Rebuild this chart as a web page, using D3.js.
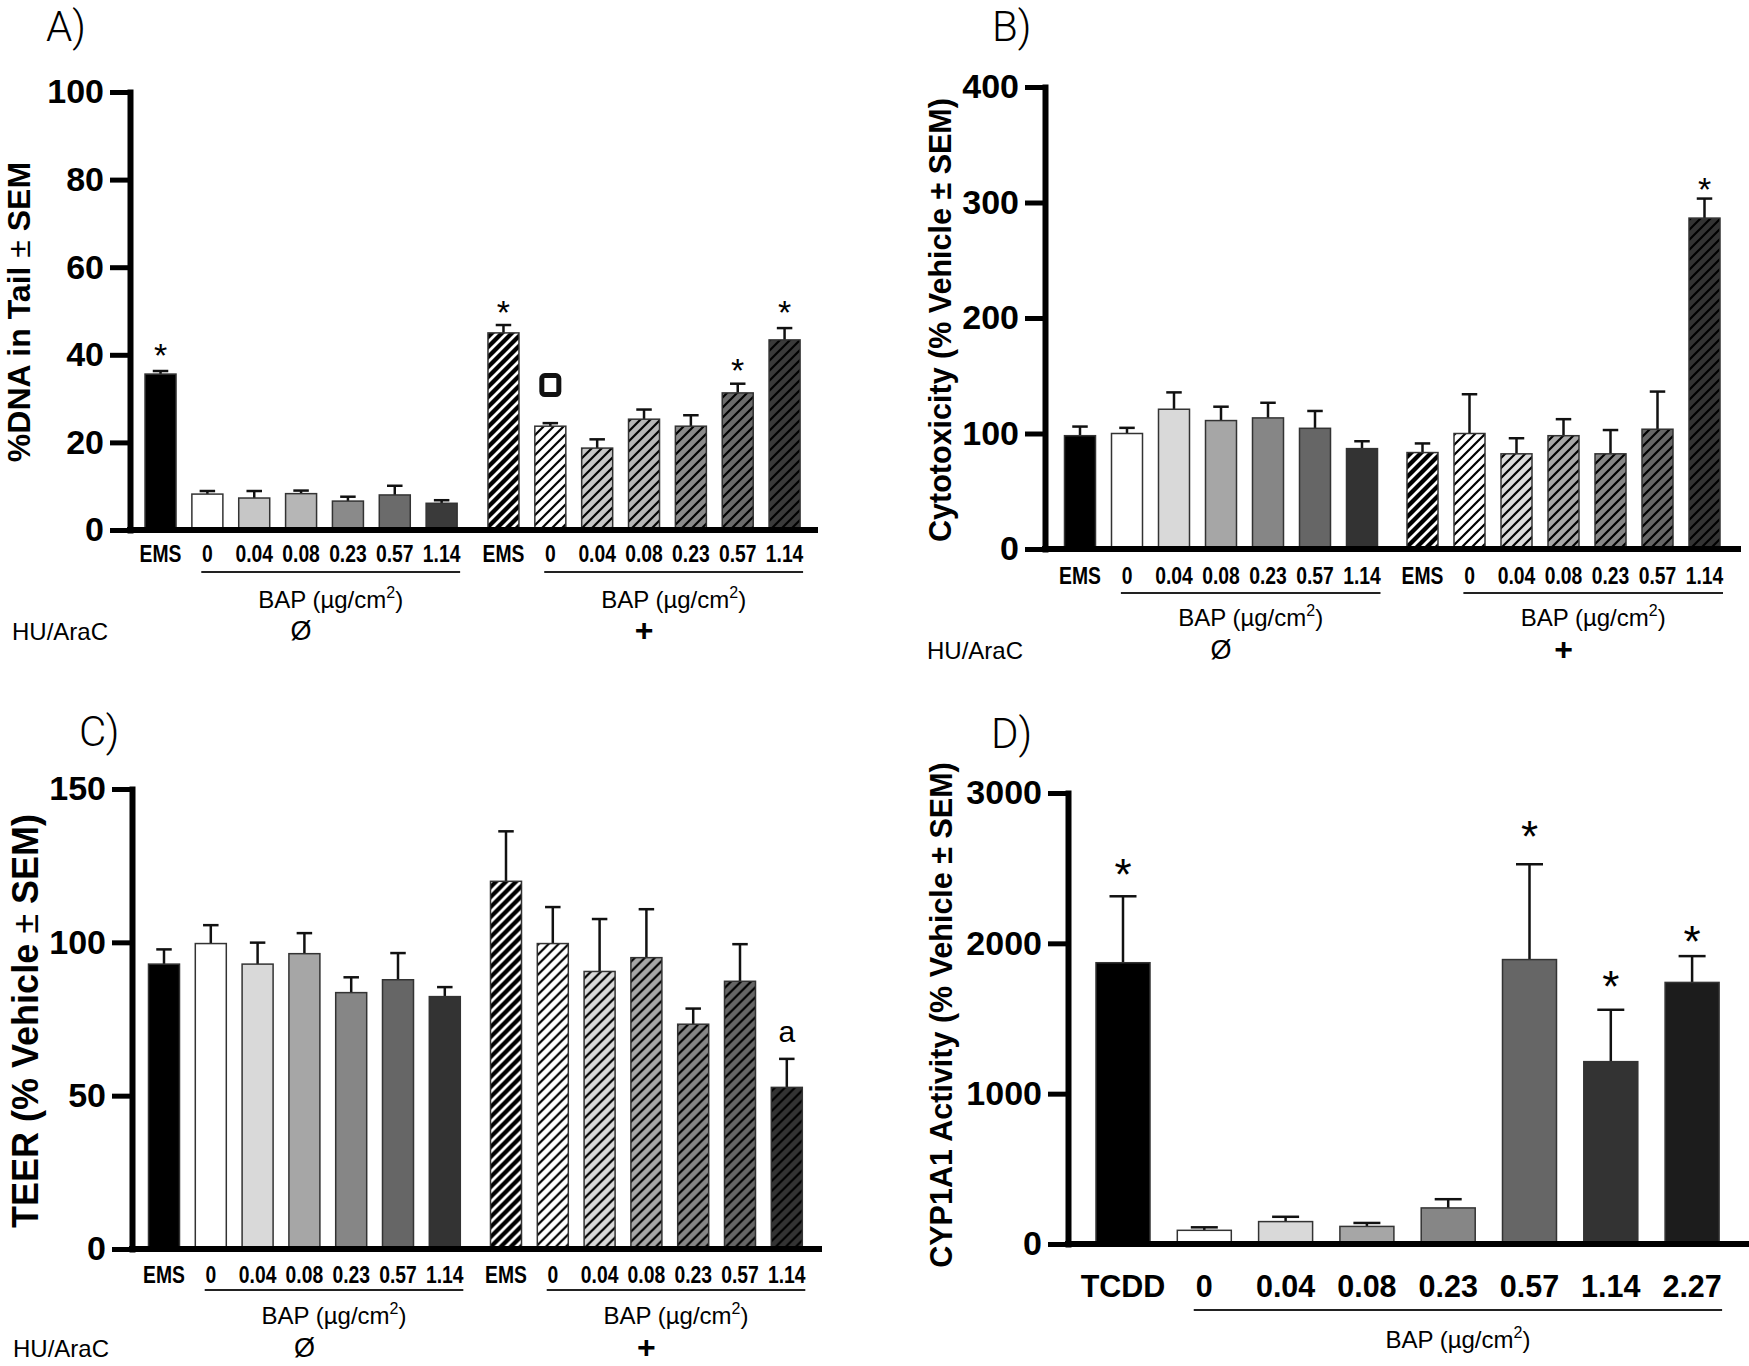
<!DOCTYPE html>
<html>
<head>
<meta charset="utf-8">
<script src="https://cdnjs.cloudflare.com/ajax/libs/d3/7.8.5/d3.min.js"></script>
<style>
    body { margin: 0; background: #fff; }
    svg text { font-family: "Liberation Sans", Arial, sans-serif; fill: #000; }
</style>
</head>
<body>
<div id="chart"></div>
<script>

// ---- shared categories ----
var groupKeys = ["none", "plus"];
var groupSigns = ["Ø", "+"];
var conditions = ["EMS", "0", "0.04", "0.08", "0.23", "0.57", "1.14"];

// ---- A) %DNA in tail ----
var cometMean   = [35.6, 8.2, 7.3, 8.3, 6.6, 8.0, 6.1];
var cometSem    = [0.7, 0.7, 1.6, 0.7, 1.0, 2.1, 0.7];
var cometMeanHU = [45.0, 23.7, 18.7, 25.3, 23.7, 31.3, 43.4];
var cometSemHU  = [1.8, 0.7, 2.0, 2.2, 2.5, 2.1, 2.7];
var cometTicks  = [0, 20, 40, 60, 80, 100];
var cometStars  = [["none", "EMS", 41.6], ["plus", "EMS", 51.4], ["plus", "0.57", 38.2], ["plus", "1.14", 51.4]];
var cometSquare = [["plus", "0", 33.1]];

// ---- B) cytotoxicity ----
var cytoMean   = [98.1, 100, 121, 111.2, 113.5, 104.5, 86.9];
var cytoSem    = [7.9, 4.9, 14.6, 12.0, 13.1, 15.0, 6.4];
var cytoMeanHU = [83.5, 100, 82.4, 98.1, 82.4, 103.7, 286.5];
var cytoSemHU  = [7.9, 34.0, 13.5, 14.3, 20.6, 32.6, 16.9];
var cytoTicks  = [0, 100, 200, 300, 400];
var cytoStars  = [["plus", "1.14", 318]];

// ---- C) TEER ----
var teerMean   = [92.9, 99.6, 92.9, 96.3, 83.6, 87.8, 82.3];
var teerSem    = [4.8, 6.0, 7.0, 6.7, 5.0, 8.7, 3.1];
var teerMeanHU = [119.9, 99.6, 90.5, 95.0, 73.3, 87.3, 52.7];
var teerSemHU  = [16.3, 11.9, 17.1, 15.8, 5.1, 12.1, 9.3];
var teerTicks  = [0, 50, 100, 150];
var teerLetters = [["plus", "1.14", 70.1, "a"]];

// ---- D) CYP1A1 activity ----
var cypConditions = ["TCDD", "0", "0.04", "0.08", "0.23", "0.57", "1.14", "2.27"];
var cypMean  = [1871, 91, 149, 117, 240, 1892, 1213, 1740];
var cypSem   = [442, 20, 32, 23, 58, 634, 345, 175];
var cypTicks = [0, 1000, 2000, 3000];
var cypStars = [["all", "TCDD", 2523], ["all", "0.57", 2772], ["all", "1.14", 1778], ["all", "2.27", 2076]];

// fill greys
var greysA = ["#000000", "#ffffff", "#c6c6c6", "#b6b6b6", "#8a8a8a", "#6b6b6b", "#3a3a3a"];
var greys  = ["#000000", "#ffffff", "#d9d9d9", "#a6a6a6", "#868686", "#666666", "#333333"];
var greysD = ["#000000", "#ffffff", "#d9d9d9", "#a6a6a6", "#868686", "#666666", "#333333", "#1c1c1c"];


var svg = d3.select("#chart").append("svg")
    .attr("width", 1749)
    .attr("height", 1366);

var defs = svg.append("defs");

// diagonal hatch used for the HU/AraC bars
function makeHatch(id, bg, line, lineWidth) {
    var p = defs.append("pattern")
        .attr("id", id)
        .attr("patternUnits", "userSpaceOnUse")
        .attr("width", 10)
        .attr("height", 10);
    p.append("rect").attr("width", 10).attr("height", 10).attr("fill", bg);
    p.append("path")
        .attr("d", "M-3,3 L3,-3 M0,10 L10,0 M7,13 L13,7")
        .attr("stroke", line)
        .attr("stroke-width", lineWidth);
}


/*
 * BarChart - one panel of the figure
 */

BarChart = function(_parent, _cfg) {
    this.parent = _parent;
    this.cfg = _cfg;
    this.initVis();
}

BarChart.prototype.initVis = function() {
    var vis = this;
    var c = vis.cfg;

    vis.g = vis.parent.append("g");

    vis.y = d3.scaleLinear()
        .domain([0, c.ticks[c.ticks.length - 1]])
        .range([c.yZero, c.yTop]);

    var nGroups = c.groups.length;
    var nCats = c.cats.length;
    var width = nGroups * nCats * c.step + (nGroups - 1) * c.gap;

    vis.xOuter = d3.scaleBand()
        .domain(c.groups.map(function(d) { return d.key; }))
        .range([c.plotLeft, c.plotLeft + width])
        .paddingInner(nGroups > 1 ? c.gap / (nCats * c.step + c.gap) : 0)
        .paddingOuter(0);

    var pad = 1 - c.barW / c.step;
    vis.xInner = d3.scaleBand()
        .domain(c.cats)
        .range([0, vis.xOuter.bandwidth()])
        .paddingInner(pad)
        .paddingOuter(pad / 2);

    vis.updateVis();
}

BarChart.prototype.cx = function(key, cat) {
    return this.xOuter(key) + this.xInner(cat) + this.xInner.bandwidth() / 2;
}

BarChart.prototype.updateVis = function() {
    var vis = this;
    var c = vis.cfg;
    var bw = vis.xInner.bandwidth();

    // bars + error bars
    c.groups.forEach(function(grp) {
        var rows = c.cats.map(function(cat, i) {
            return { cat: cat, mean: grp.mean[i], sem: grp.sem[i], i: i };
        });

        var gg = vis.g.append("g")
            .attr("transform", "translate(" + vis.xOuter(grp.key) + ",0)");

        gg.selectAll("line.err")
            .data(rows)
            .enter()
            .append("line")
            .attr("class", "err")
            .attr("x1", function(d) { return vis.xInner(d.cat) + bw / 2; })
            .attr("x2", function(d) { return vis.xInner(d.cat) + bw / 2; })
            .attr("y1", function(d) { return vis.y(d.mean); })
            .attr("y2", function(d) { return vis.y(d.mean + d.sem); })
            .attr("stroke", "#111")
            .attr("stroke-width", 2.5);

        gg.selectAll("line.cap")
            .data(rows)
            .enter()
            .append("line")
            .attr("class", "cap")
            .attr("x1", function(d) { return vis.xInner(d.cat) + bw / 4; })
            .attr("x2", function(d) { return vis.xInner(d.cat) + bw * 3 / 4; })
            .attr("y1", function(d) { return vis.y(d.mean + d.sem); })
            .attr("y2", function(d) { return vis.y(d.mean + d.sem); })
            .attr("stroke", "#111")
            .attr("stroke-width", 2.5);

        gg.selectAll("rect.bar")
            .data(rows)
            .enter()
            .append("rect")
            .attr("class", "bar")
            .attr("x", function(d) { return vis.xInner(d.cat); })
            .attr("y", function(d) { return vis.y(d.mean); })
            .attr("width", bw)
            .attr("height", function(d) { return c.yZero - vis.y(d.mean); })
            .attr("fill", function(d) {
                if (!grp.hatched) return c.fills[d.i];
                var id = c.id + "-hatch-" + d.i;
                if (d.i === 0) makeHatch(id, "#000", "#fff", 2.8);
                else makeHatch(id, c.fills[d.i], "#000", 2.2);
                return "url(#" + id + ")";
            })
            .attr("stroke", "#333")
            .attr("stroke-width", 1.5);

        // condition labels under the axis (condensed bold)
        gg.selectAll("text.cond")
            .data(rows)
            .enter()
            .append("text")
            .attr("class", "cond")
            .attr("transform", function(d) {
                return "translate(" + (vis.xInner(d.cat) + bw / 2) + "," + (c.yZero + c.off.label) + ") scale(" + c.condScale + ",1)";
            })
            .attr("text-anchor", "middle")
            .style("font-size", c.condSize + "px")
            .style("font-weight", "bold")
            .text(function(d) { return d.cat; });

        // dose underline + BAP label
        var first = c.cats[1], last = c.cats[c.cats.length - 1];
        var lx1 = vis.xInner(first) + bw / 2 - c.step * 0.13;
        var lx2 = vis.xInner(last) + bw + 3;
        gg.append("line")
            .attr("x1", lx1).attr("x2", lx2)
            .attr("y1", c.yZero + c.off.line).attr("y2", c.yZero + c.off.line)
            .attr("stroke", "#222")
            .attr("stroke-width", 2);

        var bap = gg.append("text")
            .attr("x", (lx1 + lx2) / 2)
            .attr("y", c.yZero + c.off.bap)
            .attr("text-anchor", "middle")
            .style("font-size", "24px");
        bap.append("tspan").text("BAP (µg/cm");
        bap.append("tspan").attr("dy", -10).style("font-size", "16px").text("2");
        bap.append("tspan").attr("dy", 10).text(")");

        if (grp.sign) {
            var plus = grp.sign === "+";
            gg.append("text")
                .attr("x", vis.xOuter.bandwidth() / 2)
                .attr("y", c.yZero + c.off.hu + (plus ? 1 : 0))
                .attr("text-anchor", "middle")
                .style("font-size", plus ? "32px" : "27px")
                .style("font-weight", plus ? "bold" : "normal")
                .text(grp.sign);
        }
    });

    if (c.groups.length > 1) {
        vis.g.append("text")
            .attr("x", c.huX)
            .attr("y", c.yZero + c.off.hu)
            .style("font-size", "24px")
            .text("HU/AraC");
    }

    // y axis
    var yAxis = d3.axisLeft(vis.y)
        .tickValues(c.ticks)
        .tickSize(20)
        .tickSizeOuter(0)
        .tickPadding(6)
        .tickFormat(d3.format("d"));

    var ax = vis.g.append("g")
        .attr("transform", "translate(" + c.axisX + ",0)")
        .call(yAxis);
    ax.select(".domain")
        .attr("stroke", "#000")
        .attr("stroke-width", 6)
        .attr("stroke-linecap", "square");
    ax.selectAll(".tick line")
        .attr("stroke", "#000")
        .attr("stroke-width", 5);
    ax.selectAll(".tick text")
        .attr("fill", "#000")
        .style("font-family", "'Liberation Sans', Arial, sans-serif")
        .style("font-size", "34px")
        .style("font-weight", "bold");

    // baseline
    vis.g.append("line")
        .attr("x1", c.axisX - 3)
        .attr("x2", c.xEnd)
        .attr("y1", c.yZero)
        .attr("y2", c.yZero)
        .attr("stroke", "#000")
        .attr("stroke-width", 6);

    // y title
    var title = vis.g.append("text")
        .attr("transform", "translate(" + c.titleX + "," + c.titleY + ") rotate(-90)")
        .attr("text-anchor", "middle")
        .style("font-size", c.titleSize + "px")
        .style("font-weight", "bold");
    title.append("tspan").text(c.title[0]);
    title.append("tspan").style("font-weight", c.lightPm ? "normal" : "bold").text(c.title[1]);
    title.append("tspan").text(c.title[2]);

    // panel letter
    vis.g.append("text")
        .attr("x", c.letterX)
        .attr("y", c.letterY)
        .style("font-family", "Roboto, sans-serif")
        .style("font-weight", 300)
        .style("font-size", "42px")
        .text(c.letter);

    // significance marks
    (c.stars || []).forEach(function(s) {
        vis.g.append("text")
            .attr("x", vis.cx(s[0], s[1]))
            .attr("y", vis.y(s[2]) + 0.57 * c.starSize)
            .attr("text-anchor", "middle")
            .style("font-size", c.starSize + "px")
            .text("*");
    });
    (c.letters || []).forEach(function(s) {
        vis.g.append("text")
            .attr("x", vis.cx(s[0], s[1]))
            .attr("y", vis.y(s[2]) + 0.26 * 30)
            .attr("text-anchor", "middle")
            .style("font-size", "30px")
            .text(s[3]);
    });
    (c.squares || []).forEach(function(s) {
        vis.g.append("rect")
            .attr("x", vis.cx(s[0], s[1]) - 8.5)
            .attr("y", vis.y(s[2]) - 9.5)
            .attr("width", 17)
            .attr("height", 19)
            .attr("rx", 3)
            .attr("fill", "none")
            .attr("stroke", "#111")
            .attr("stroke-width", 5);
    });
}


// ---- panels ----
var panelA = new BarChart(svg, {
    id: "A", letter: "A)", letterX: 46, letterY: 41,
    cats: conditions, fills: greysA,
    groups: [
        { key: groupKeys[0], mean: cometMean, sem: cometSem, hatched: false, sign: groupSigns[0] },
        { key: groupKeys[1], mean: cometMeanHU, sem: cometSemHU, hatched: true, sign: groupSigns[1] }
    ],
    ticks: cometTicks, axisX: 130, yTop: 92, yZero: 530,
    plotLeft: 137.1, step: 46.85, gap: 15, barW: 31, xEnd: 818,
    condSize: 23, condScale: 0.84, off: { label: 32, line: 42, bap: 78, hu: 110 }, huX: 12,
    title: ["%DNA in Tail ", "±", " SEM"], lightPm: true, titleX: 30, titleY: 312, titleSize: 32,
    starSize: 34, stars: cometStars, squares: cometSquare
});

var panelB = new BarChart(svg, {
    id: "B", letter: "B)", letterX: 992, letterY: 41,
    cats: conditions, fills: greys,
    groups: [
        { key: groupKeys[0], mean: cytoMean, sem: cytoSem, hatched: false, sign: groupSigns[0] },
        { key: groupKeys[1], mean: cytoMeanHU, sem: cytoSemHU, hatched: true, sign: groupSigns[1] }
    ],
    ticks: cytoTicks, axisX: 1045, yTop: 87, yZero: 549,
    plotLeft: 1056.5, step: 47, gap: 13.5, barW: 31, xEnd: 1741,
    condSize: 23, condScale: 0.84, off: { label: 35, line: 44, bap: 77, hu: 110 }, huX: 927,
    title: ["Cytotoxicity (% Vehicle ", "±", " SEM)"], lightPm: false, titleX: 951, titleY: 320, titleSize: 30.5,
    starSize: 34, stars: cytoStars
});

var panelC = new BarChart(svg, {
    id: "C", letter: "C)", letterX: 79, letterY: 746,
    cats: conditions, fills: greys,
    groups: [
        { key: groupKeys[0], mean: teerMean, sem: teerSem, hatched: false, sign: groupSigns[0] },
        { key: groupKeys[1], mean: teerMeanHU, sem: teerSemHU, hatched: true, sign: groupSigns[1] }
    ],
    ticks: teerTicks, axisX: 132, yTop: 789, yZero: 1249,
    plotLeft: 140.6, step: 46.8, gap: 14.4, barW: 31, xEnd: 822,
    condSize: 23, condScale: 0.84, off: { label: 34, line: 41, bap: 75, hu: 108 }, huX: 13,
    title: ["TEER (% Vehicle ", "±", " SEM)"], lightPm: true, titleX: 38, titleY: 1021, titleSize: 36,
    letters: teerLetters
});

var panelD = new BarChart(svg, {
    id: "D", letter: "D)", letterX: 991, letterY: 748,
    cats: cypConditions, fills: greysD,
    groups: [
        { key: "all", mean: cypMean, sem: cypSem, hatched: false, sign: null }
    ],
    ticks: cypTicks, axisX: 1068, yTop: 793, yZero: 1244,
    plotLeft: 1082.35, step: 81.3, gap: 0, barW: 54, xEnd: 1749,
    condSize: 30.5, condScale: 1, off: { label: 53, line: 66, bap: 104, hu: 0 }, huX: 0,
    title: ["CYP1A1 Activity (% Vehicle ", "±", " SEM)"], lightPm: false, titleX: 952, titleY: 1015, titleSize: 30.5,
    starSize: 44, stars: cypStars
});

</script>
</body>
</html>
